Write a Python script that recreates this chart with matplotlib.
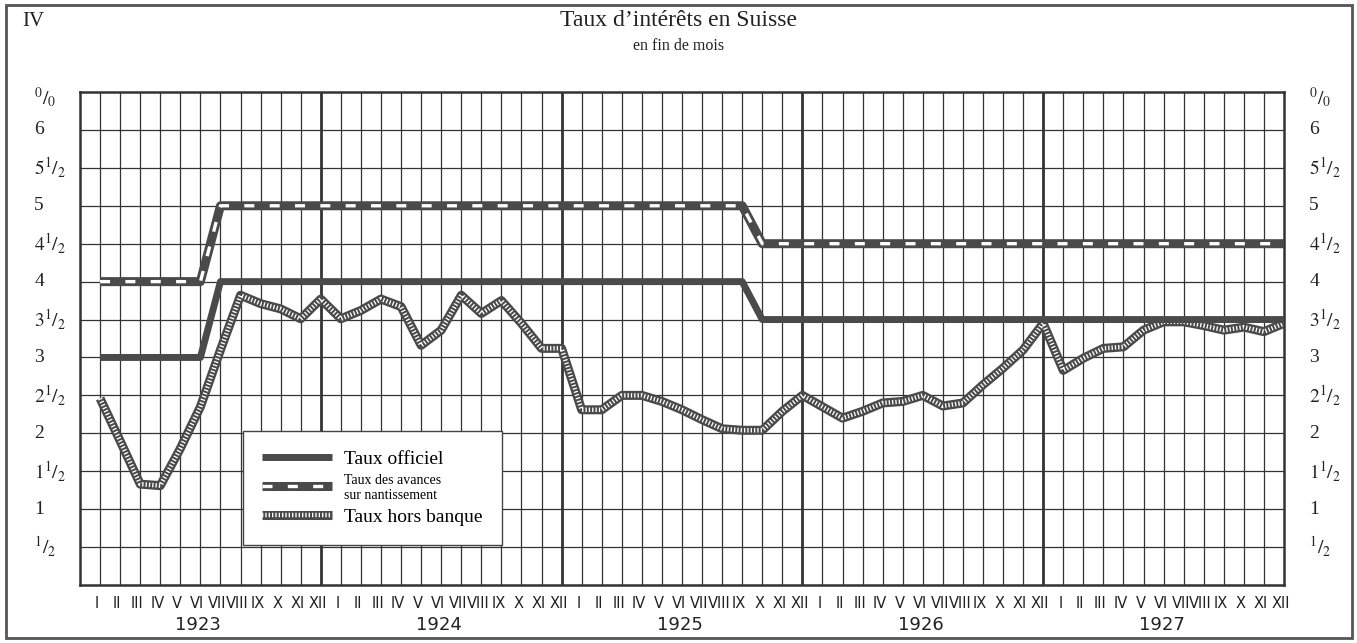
"""
    Taux d'intérêts en Suisse, en fin de mois, 1923-1927
"""
import matplotlib
matplotlib.use('Agg')
import matplotlib.pyplot as plt
import numpy as np
from matplotlib.lines import Line2D
from matplotlib.legend_handler import HandlerTuple
from matplotlib.patches import Rectangle

YEARS = [1923, 1924, 1925, 1926, 1927]
MONTHS = ['I', 'II', 'III', 'IV', 'V', 'VI', 'VII', 'VIII', 'IX', 'X', 'XI', 'XII']

# one value per month, end of month, Jan 1923 .. Dec 1927
TAUX_OFFICIEL = [
    3, 3, 3, 3, 3, 3, 4, 4, 4, 4, 4, 4,
    4, 4, 4, 4, 4, 4, 4, 4, 4, 4, 4, 4,
    4, 4, 4, 4, 4, 4, 4, 4, 4, 3.5, 3.5, 3.5,
    3.5, 3.5, 3.5, 3.5, 3.5, 3.5, 3.5, 3.5, 3.5, 3.5, 3.5, 3.5,
    3.5, 3.5, 3.5, 3.5, 3.5, 3.5, 3.5, 3.5, 3.5, 3.5, 3.5, 3.5,
]
TAUX_AVANCES = [
    4, 4, 4, 4, 4, 4, 5, 5, 5, 5, 5, 5,
    5, 5, 5, 5, 5, 5, 5, 5, 5, 5, 5, 5,
    5, 5, 5, 5, 5, 5, 5, 5, 5, 4.5, 4.5, 4.5,
    4.5, 4.5, 4.5, 4.5, 4.5, 4.5, 4.5, 4.5, 4.5, 4.5, 4.5, 4.5,
    4.5, 4.5, 4.5, 4.5, 4.5, 4.5, 4.5, 4.5, 4.5, 4.5, 4.5, 4.5,
]
TAUX_HORS_BANQUE = [
    2.46, 1.9, 1.33, 1.31, 1.8, 2.35, 3.1, 3.82, 3.71, 3.64, 3.51, 3.77,
    3.51, 3.62, 3.77, 3.67, 3.16, 3.36, 3.82, 3.58, 3.75, 3.45, 3.12, 3.12,
    2.31, 2.31, 2.5, 2.5, 2.42, 2.31, 2.18, 2.06, 2.04, 2.04, 2.29, 2.5,
    2.35, 2.2, 2.29, 2.4, 2.42, 2.5, 2.36, 2.4, 2.64, 2.86, 3.1, 3.45,
    2.83, 2.99, 3.12, 3.14, 3.36, 3.47, 3.47, 3.42, 3.36, 3.4, 3.34, 3.45,
]
Y_VALUES = [6.42, 6, 5.5, 5, 4.5, 4, 3.5, 3, 2.5, 2, 1.5, 1, 0.5]
Y_LABELS = [r'$^{0}/_{0}$', '6', r'$5^{1}/_{2}$', '5', r'$4^{1}/_{2}$', '4',
            r'$3^{1}/_{2}$', '3', r'$2^{1}/_{2}$', '2', r'$1^{1}/_{2}$', '1',
            r'$^{1}/_{2}$']

GRAY = '#4a4a4a'
GRID = '#333333'
W, H = 1357, 643

plt.rcParams['font.family'] = ['Liberation Serif', 'DejaVu Serif']
plt.rcParams['mathtext.fontset'] = 'stix'

AV_OUTER = dict(color=GRAY, lw=6.5, solid_capstyle='butt')
AV_INNER = dict(color='white', lw=2.4, dashes=(3.0, 4.6))
HB_OUTER = dict(color=GRAY, lw=6.5, solid_capstyle='butt')
HB_INNER = dict(color='white', lw=3.2, dashes=(0.3, 0.45))


def draw_series(axes, xs):
    """Draw the three rate curves."""
    axes.plot(xs, TAUX_AVANCES, zorder=3, **AV_OUTER)
    axes.plot(xs, TAUX_AVANCES, zorder=3.1, **AV_INNER)
    axes.plot(xs, TAUX_HORS_BANQUE, zorder=3, **HB_OUTER)
    axes.plot(xs, TAUX_HORS_BANQUE, zorder=3.1, **HB_INNER)
    axes.plot(xs, TAUX_OFFICIEL, color=GRAY, lw=5, solid_capstyle='butt', zorder=3.2)


def main():
    fig = plt.figure(figsize=(W / 100, H / 100), dpi=100)
    fig.patch.set_facecolor('white')
    axes = fig.add_axes([80 / W, 1 - 585 / H, 1204 / W, 493 / H])
    n_months = len(TAUX_OFFICIEL)
    xs = np.arange(1, n_months + 1)

    axes.set_xlim(0, n_months)
    axes.set_ylim(0, 6.5)
    axes.set_xticks([])
    axes.set_yticks([])
    for spine in axes.spines.values():
        spine.set_linewidth(1.8)
        spine.set_color(GRID)

    # grid: a line per month, thicker at year change
    for i in range(1, n_months):
        axes.axvline(i, color=GRID, lw=2.0 if i % 12 == 0 else 0.9, zorder=1)
    for v in np.arange(0.5, 6.5, 0.5):
        axes.axhline(v, color=GRID, lw=0.9, zorder=1)

    draw_series(axes, xs)

    # y labels both sides
    ytrans = axes.get_yaxis_transform()
    for v, label in zip(Y_VALUES, Y_LABELS):
        axes.text(-0.038, v, label, transform=ytrans, ha='left', va='center',
                  fontsize=14, color='#222')
        axes.text(1.021, v, label, transform=ytrans, ha='left', va='center',
                  fontsize=14, color='#222')

    # month and year labels
    xtrans = axes.get_xaxis_transform()
    for y_index, year in enumerate(YEARS):
        for m_index, month in enumerate(MONTHS):
            pos = y_index * 12 + m_index + 1 - 0.15
            axes.text(pos, -0.037, month, transform=xtrans, ha='center', va='center',
                      fontsize=10.5, color='#222',
                      family=['Liberation Sans Narrow', 'DejaVu Sans'])
        axes.text(y_index * 12 + 5.9, -0.082, str(year), transform=xtrans,
                  ha='center', va='center', fontsize=13, color='#222',
                  family=['Liberation Sans Narrow', 'DejaVu Sans'])

    # legend
    h_off = Line2D([], [], color=GRAY, lw=5, solid_capstyle='butt')
    h_av = (Line2D([], [], **AV_OUTER), Line2D([], [], **AV_INNER))
    h_hb = (Line2D([], [], **HB_OUTER), Line2D([], [], **HB_INNER))
    leg = axes.legend([h_off, h_av, h_hb],
                      ['Taux officiel', 'Taux des avances\nsur nantissement',
                       'Taux hors banque'],
                      handler_map={tuple: HandlerTuple(ndivide=1)},
                      loc='upper left', bbox_to_anchor=(0.1354, 0.312),
                      borderaxespad=0, frameon=True, fancybox=False, framealpha=1,
                      edgecolor='#444', fontsize=14, handlelength=3.6,
                      borderpad=1.0, labelspacing=0.3, handletextpad=0.6)
    leg.get_frame().set_linewidth(1)
    leg.get_texts()[1].set_fontsize(10)
    leg.set_zorder(5)

    # titles and frame
    fig.text(22 / W, 1 - 22 / H, 'IV', ha='left', va='center', fontsize=15, color='#222')
    fig.text(0.5, 1 - 21 / H, 'Taux d’intérêts en Suisse', ha='center', va='center',
             fontsize=17, color='#222')
    fig.text(0.5, 1 - 46 / H, 'en fin de mois', ha='center', va='center',
             fontsize=11.5, color='#222')
    fig.patches.append(Rectangle((6 / W, 5 / H), 1346 / W, 633 / H,
                                 transform=fig.transFigure, fill=False,
                                 lw=2, ec='#555'))

    fig.savefig('out.png', dpi=100, facecolor='white')


if __name__ == '__main__':
    main()
